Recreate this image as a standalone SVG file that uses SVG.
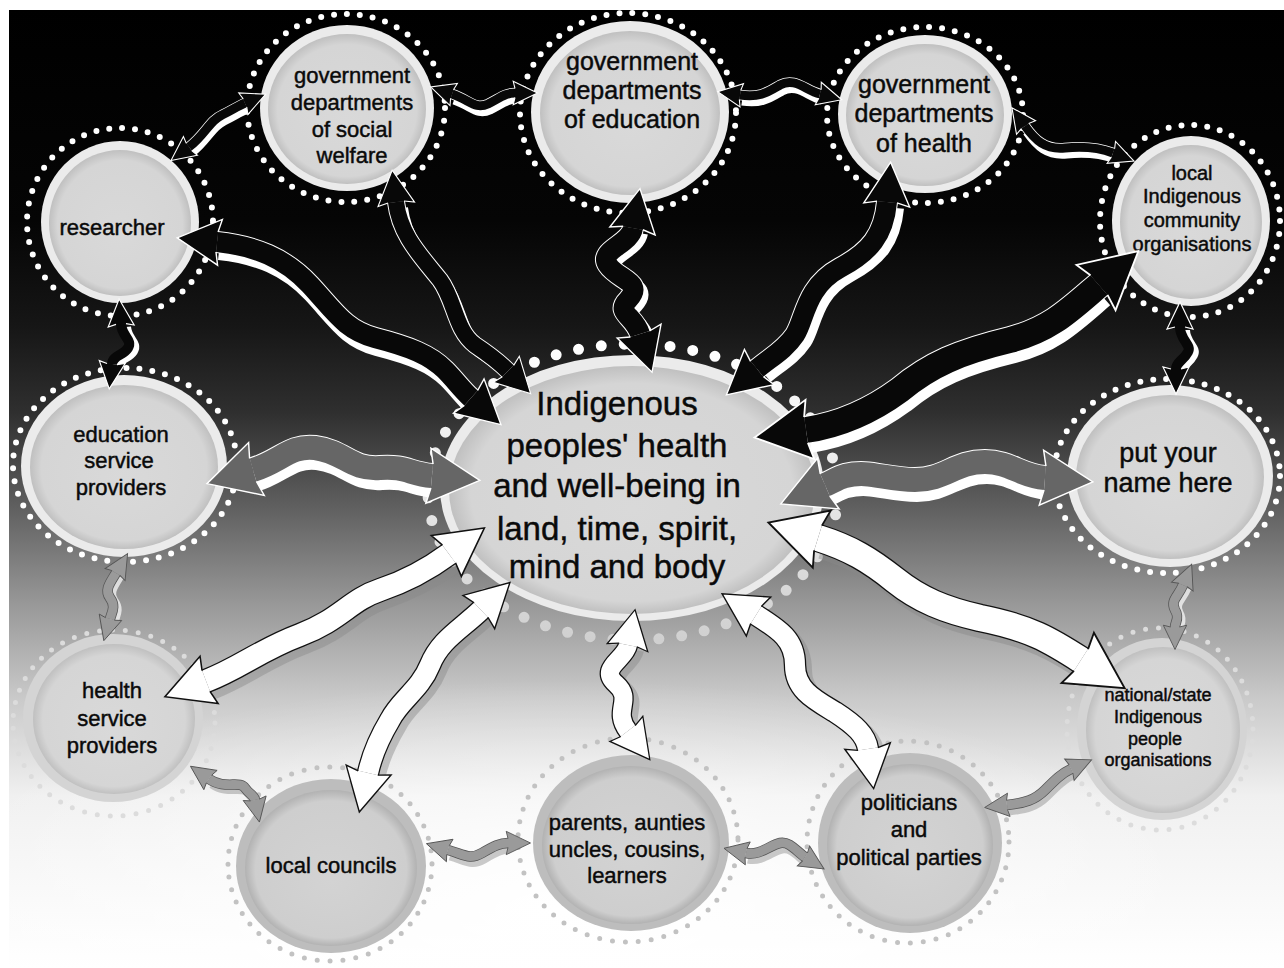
<svg xmlns="http://www.w3.org/2000/svg" xmlns:xlink="http://www.w3.org/1999/xlink" width="1284" height="968" viewBox="0 0 1284 968">
<style>
text{font-family:"Liberation Sans",Arial,sans-serif;fill:#0a0a0a;stroke:#0a0a0a;stroke-width:0.45;text-anchor:middle}
.dots{fill:none;stroke:#fff;stroke-width:6;stroke-linecap:round;stroke-dasharray:0 13}
.mid .dots{stroke:#dcdcdc;stroke-width:5}
.low .dots{stroke:#c2c2c2;stroke-width:5}
.band{fill:#ebebeb}
.mid .band{fill:#d4d4d4}
.low .band{fill:#bdbdbd}
.inner{fill:url(#gIn)}
.low .inner{fill:url(#gInLow)}
.cdots{fill:none;stroke:url(#gDotC);stroke-width:11;stroke-linecap:round;stroke-dasharray:0 23}
.sh{fill:none;stroke:#fff}
.shg{fill:none;stroke:#8a8a8a;opacity:.45}
.olw{fill:none;stroke:#fff}
.olk{fill:none;stroke:#111}
.old{fill:none;stroke:#555}
.fd{fill:none;stroke:#080808;marker-start:url(#mD);marker-end:url(#mD)}
.fsd{fill:none;stroke:#080808;marker-start:url(#mSD);marker-end:url(#mSD)}
.fg{fill:none;stroke:#666;marker-start:url(#mG);marker-end:url(#mG)}
.fw{fill:none;stroke:#fff;marker-start:url(#mW);marker-end:url(#mW)}
.fs{fill:none;stroke:#9a9a9a;marker-start:url(#mS);marker-end:url(#mS)}
</style>
<defs>
<linearGradient id="gBg" x1="0" y1="0" x2="0" y2="1">
<stop offset="0" stop-color="#000"/>
<stop offset=".22" stop-color="#050505"/>
<stop offset=".33" stop-color="#161616"/>
<stop offset=".42" stop-color="#2f2f2f"/>
<stop offset=".52" stop-color="#606060"/>
<stop offset=".62" stop-color="#989898"/>
<stop offset=".72" stop-color="#cacaca"/>
<stop offset=".82" stop-color="#f0f0f0"/>
<stop offset="1" stop-color="#fff"/>
</linearGradient>
<radialGradient id="gGlow" cx="0.5" cy="0.5" r="0.5">
<stop offset="0" stop-color="#fff" stop-opacity="1"/>
<stop offset="1" stop-color="#fff" stop-opacity="0"/>
</radialGradient>
<radialGradient id="gIn" cx="0.5" cy="0.5" r="0.5" fx="0.5" fy="0.58">
<stop offset="0" stop-color="#d9d9d9"/>
<stop offset="0.88" stop-color="#d5d5d5"/>
<stop offset="1" stop-color="#c0c0c0"/>
</radialGradient>
<radialGradient id="gInLow" cx="0.5" cy="0.5" r="0.5" fx="0.5" fy="0.58">
<stop offset="0" stop-color="#d3d3d3"/>
<stop offset="0.88" stop-color="#cecece"/>
<stop offset="1" stop-color="#b2b2b2"/>
</radialGradient>
<linearGradient id="gDotC" gradientUnits="userSpaceOnUse" x1="0" y1="345" x2="0" y2="640">
<stop offset="0" stop-color="#fff"/>
<stop offset="1" stop-color="#d0d0d0"/>
</linearGradient>
<marker id="mD" viewBox="-1 -2 4 4" markerWidth="4" markerHeight="4" refX="0" refY="0" orient="auto-start-reverse" markerUnits="strokeWidth" overflow="visible">
<path d="M0,-0.5 L-0.15,-1.15 L2,0 L-0.15,1.15 L0,0.5 Z" fill="#080808"/>
<path d="M0,-0.5 L-0.15,-1.15 L2,0 L-0.15,1.15 L0,0.5" fill="none" stroke="#fff" stroke-width="0.07"/>
</marker>
<marker id="mSD" viewBox="-1 -2 4 4" markerWidth="4" markerHeight="4" refX="0" refY="0" orient="auto-start-reverse" markerUnits="strokeWidth" overflow="visible">
<path d="M0,-0.5 L-0.2,-1.3 L2.5,0 L-0.2,1.3 L0,0.5 Z" fill="#080808"/>
<path d="M0,-0.5 L-0.2,-1.3 L2.5,0 L-0.2,1.3 L0,0.5" fill="none" stroke="#fff" stroke-width="0.12"/>
</marker>
<marker id="mG" viewBox="-1 -2 4 4" markerWidth="4" markerHeight="4" refX="0" refY="0" orient="auto-start-reverse" markerUnits="strokeWidth" overflow="visible">
<path d="M0,-0.5 L-0.15,-1.15 L2,0 L-0.15,1.15 L0,0.5 Z" fill="#666"/>
<path d="M0,-0.5 L-0.15,-1.15 L2,0 L-0.15,1.15 L0,0.5" fill="none" stroke="#fff" stroke-width="0.06"/>
</marker>
<marker id="mW" viewBox="-1 -2 4 4" markerWidth="4" markerHeight="4" refX="0" refY="0" orient="auto-start-reverse" markerUnits="strokeWidth" overflow="visible">
<path d="M0,-0.5 L-0.15,-1.15 L2,0 L-0.15,1.15 L0,0.5 Z" fill="#fff"/>
<path d="M0,-0.5 L-0.15,-1.15 L2,0 L-0.15,1.15 L0,0.5" fill="none" stroke="#111" stroke-width="0.07"/>
</marker>
<marker id="mS" viewBox="-1 -2 4 4" markerWidth="4" markerHeight="4" refX="0" refY="0" orient="auto-start-reverse" markerUnits="strokeWidth" overflow="visible">
<path d="M0,-0.5 L-0.2,-1.3 L2.5,0 L-0.2,1.3 L0,0.5 Z" fill="#9a9a9a"/>
<path d="M0,-0.5 L-0.2,-1.3 L2.5,0 L-0.2,1.3 L0,0.5" fill="none" stroke="#555" stroke-width="0.1"/>
</marker>
<path id="pA1" d="M217,242 C255,246 285,258 310,285 C335,312 345,330 375,338 C410,347 430,355 445,370 C455,380 462,390 471,398"/>
<path id="pA2" d="M396,202 C400,235 420,255 440,280 C455,300 455,330 475,345 C490,355 500,363 508,371"/>
<path id="pA3" d="M633,228 C630,245 598,250 608,265 C618,280 645,282 628,300 C615,313 634,315 640,334"/>
<path id="pA4" d="M887,202 C884,235 870,252 840,268 C805,287 805,320 795,335 C785,350 770,358 757,369"/>
<path id="pA5" d="M1099,285 C1070,310 1050,330 1010,340 C960,352 930,365 900,390 C870,412 840,425 806,430"/>
<path id="pA6" d="M253,470 C280,462 290,445 315,448 C345,452 350,470 380,468 C405,466 410,474 432,476"/>
<path id="pA7" d="M1045,478 C1020,476 1010,462 985,462 C955,462 945,480 915,480 C885,480 870,470 845,476 C838,478 832,482 825,485"/>
<path id="pA8" d="M206,681 C240,668 260,650 300,635 C340,620 350,600 380,590 C410,580 430,568 449,554"/>
<path id="pA9" d="M481,610 C460,630 440,640 430,665 C420,690 400,700 390,720 C378,740 372,755 368,773"/>
<path id="pA10" d="M628,645 C625,660 598,668 616,684 C634,700 612,710 628,731"/>
<path id="pA11" d="M756,615 C780,630 795,640 795,665 C795,690 815,700 835,712 C855,725 866,735 868,749"/>
<path id="pA12" d="M818,538 C850,548 870,560 895,580 C920,600 945,610 980,618 C1030,628 1050,640 1081,660"/>
<path id="pa" d="M189,147 C205,135 210,120 222,115 C232,110 238,106 245,103"/>
<path id="pb" d="M452,94 C470,100 475,110 488,104 C500,98 505,93 515,93"/>
<path id="pc" d="M740,95 C760,98 768,92 780,85 C795,77 805,90 820,94"/>
<path id="pd" d="M1025,126 C1035,140 1045,150 1065,148 C1085,146 1100,148 1113,153"/>
<path id="pe" d="M1180,327 C1180,340 1192,345 1188,352 C1184,360 1176,362 1176,369"/>
<path id="pf" d="M121,324 C122,337 133,340 128,348 C123,356 113,355 112,364"/>
<path id="pg" d="M116,573 C110,583 104,590 110,598 C116,606 112,612 110,619"/>
<path id="ph" d="M209,779 C225,790 240,780 245,788 C250,795 254,795 255,800"/>
<path id="pi" d="M448,850 C465,855 470,860 482,853 C494,846 500,843 508,843"/>
<path id="pj" d="M746,853 C760,856 770,845 780,843 C790,841 797,852 805,857"/>
<path id="pk" d="M1007,805 C1025,803 1035,800 1045,790 C1055,780 1062,773 1071,769"/>
<path id="pl" d="M1183,585 C1178,597 1170,600 1175,610 C1180,618 1175,622 1175,627"/>
</defs>

<rect x="0" y="0" width="1284" height="968" fill="#fff"/>
<rect x="9" y="10" width="1275" height="958" fill="url(#gBg)"/>
<ellipse cx="560" cy="910" rx="650" ry="230" fill="url(#gGlow)"/>

<g id="n-center">
<ellipse class="cdots" cx="633" cy="492" rx="205" ry="148"/>
<ellipse class="band" cx="632" cy="488" rx="192" ry="133"/>
<ellipse class="inner" cx="632" cy="490" rx="183" ry="124"/>
<text font-size="33"><tspan x="617" y="415">Indigenous</tspan><tspan x="617" y="457">peoples' health</tspan><tspan x="617" y="497">and well-being in</tspan><tspan x="617" y="540">land, time, spirit,</tspan><tspan x="617" y="578">mind and body</tspan></text>
</g>

<g id="n-researcher">
<ellipse class="dots" cx="120" cy="222" rx="93" ry="94"/>
<ellipse class="band" cx="120" cy="222" rx="79" ry="81"/>
<ellipse class="inner" cx="120" cy="223" rx="71" ry="73"/>
<text font-size="22" x="112" y="235">researcher</text>
</g>

<g id="n-welfare">
<ellipse class="dots" cx="346" cy="108" rx="99" ry="94"/>
<ellipse class="band" cx="347" cy="108" rx="87" ry="83"/>
<ellipse class="inner" cx="347" cy="109" rx="79" ry="75"/>
<text font-size="22"><tspan x="352" y="83">government</tspan><tspan x="352" y="110">departments</tspan><tspan x="352" y="137">of social</tspan><tspan x="352" y="163">welfare</tspan></text>
</g>

<g id="n-education">
<ellipse class="dots" cx="628" cy="113" rx="108" ry="100"/>
<ellipse class="band" cx="630" cy="112" rx="99" ry="91"/>
<ellipse class="inner" cx="630" cy="113" rx="90" ry="82"/>
<text font-size="25"><tspan x="632" y="70">government</tspan><tspan x="632" y="99">departments</tspan><tspan x="632" y="128">of education</tspan></text>
</g>

<g id="n-health">
<ellipse class="dots" cx="925" cy="115" rx="98" ry="88"/>
<ellipse class="band" cx="925" cy="114" rx="87" ry="79"/>
<ellipse class="inner" cx="925" cy="115" rx="79" ry="71"/>
<text font-size="25"><tspan x="924" y="93">government</tspan><tspan x="924" y="122">departments</tspan><tspan x="924" y="152">of health</tspan></text>
</g>

<g id="n-localorg">
<ellipse class="dots" cx="1190" cy="221" rx="90" ry="96"/>
<ellipse class="band" cx="1191" cy="221" rx="79" ry="85"/>
<ellipse class="inner" cx="1191" cy="222" rx="71" ry="77"/>
<text font-size="20"><tspan x="1192" y="180">local</tspan><tspan x="1192" y="203">Indigenous</tspan><tspan x="1192" y="227">community</tspan><tspan x="1192" y="251">organisations</tspan></text>
</g>

<g id="n-edusp">
<ellipse class="dots" cx="125" cy="465" rx="112" ry="97"/>
<ellipse class="band" cx="124" cy="466" rx="103" ry="91"/>
<ellipse class="inner" cx="124" cy="467" rx="94" ry="82"/>
<text font-size="22"><tspan x="121" y="442">education</tspan><tspan x="119" y="468">service</tspan><tspan x="121" y="495">providers</tspan></text>
</g>

<g id="n-name">
<ellipse class="dots" cx="1167" cy="476" rx="113" ry="97"/>
<ellipse class="band" cx="1170" cy="476" rx="103" ry="91"/>
<ellipse class="inner" cx="1170" cy="477" rx="94" ry="82"/>
<text font-size="27"><tspan x="1168" y="462">put your</tspan><tspan x="1168" y="492">name here</tspan></text>
</g>

<g id="n-healthsp" class="mid">
<ellipse class="dots" cx="114" cy="723" rx="101" ry="93"/>
<ellipse class="band" cx="113" cy="718" rx="90" ry="84"/>
<ellipse class="inner" cx="114" cy="719" rx="81" ry="75"/>
<text font-size="22"><tspan x="112" y="698">health</tspan><tspan x="112" y="726">service</tspan><tspan x="112" y="753">providers</tspan></text>
</g>

<g id="n-national" class="mid">
<ellipse class="dots" cx="1160" cy="729" rx="93" ry="101"/>
<ellipse class="band" cx="1162" cy="729" rx="85" ry="91"/>
<ellipse class="inner" cx="1163" cy="730" rx="77" ry="83"/>
<text font-size="18"><tspan x="1158" y="701">national/state</tspan><tspan x="1158" y="723">Indigenous</tspan><tspan x="1155" y="745">people</tspan><tspan x="1158" y="766">organisations</tspan></text>
</g>

<g id="n-councils" class="low">
<ellipse class="dots" cx="330" cy="864" rx="102" ry="97"/>
<ellipse class="band" cx="331" cy="866" rx="95" ry="87"/>
<ellipse class="inner" cx="331" cy="868" rx="86" ry="78"/>
<text font-size="22" x="331" y="873">local councils</text>
</g>

<g id="n-parents" class="low">
<ellipse class="dots" cx="628" cy="840" rx="110" ry="102"/>
<ellipse class="band" cx="631" cy="843" rx="98" ry="88"/>
<ellipse class="inner" cx="631" cy="845" rx="89" ry="79"/>
<text font-size="22"><tspan x="627" y="830">parents, aunties</tspan><tspan x="627" y="857">uncles, cousins,</tspan><tspan x="627" y="883">learners</tspan></text>
</g>

<g id="n-politicians" class="low">
<ellipse class="dots" cx="908" cy="842" rx="101" ry="101"/>
<ellipse class="band" cx="910" cy="843" rx="92" ry="90"/>
<ellipse class="inner" cx="910" cy="845" rx="83" ry="81"/>
<text font-size="22"><tspan x="909" y="810">politicians</tspan><tspan x="909" y="837">and</tspan><tspan x="909" y="865">political parties</tspan></text>
</g>

<g id="connectors">
<g><use href="#pa" class="sh" stroke-width="9" transform="translate(2,6)"/><use href="#pa" class="olw" stroke-width="10.5"/><use href="#pa" class="fsd" stroke-width="9"/></g>
<g><use href="#pb" class="sh" stroke-width="9" transform="translate(2,6)"/><use href="#pb" class="olw" stroke-width="10.5"/><use href="#pb" class="fsd" stroke-width="9"/></g>
<g><use href="#pc" class="sh" stroke-width="9" transform="translate(2,6)"/><use href="#pc" class="olw" stroke-width="10.5"/><use href="#pc" class="fsd" stroke-width="9"/></g>
<g><use href="#pd" class="sh" stroke-width="9" transform="translate(2,6)"/><use href="#pd" class="olw" stroke-width="10.5"/><use href="#pd" class="fsd" stroke-width="9"/></g>
<g><use href="#pe" class="sh" stroke-width="10" transform="translate(5,3)"/><use href="#pe" class="fsd" stroke-width="10"/></g>
<g><use href="#pf" class="sh" stroke-width="10" transform="translate(5,3)"/><use href="#pf" class="fsd" stroke-width="10"/></g>
<g><use href="#pg" class="sh" stroke-width="9" transform="translate(4,3)" opacity=".7"/><use href="#pg" class="old" stroke-width="10.5"/><use href="#pg" class="fs" stroke-width="9"/></g>
<g><use href="#ph" class="shg" stroke-width="9" transform="translate(3,5)"/><use href="#ph" class="old" stroke-width="10.5"/><use href="#ph" class="fs" stroke-width="9"/></g>
<g><use href="#pi" class="shg" stroke-width="9" transform="translate(2,6)"/><use href="#pi" class="old" stroke-width="10.5"/><use href="#pi" class="fs" stroke-width="9"/></g>
<g><use href="#pj" class="shg" stroke-width="9" transform="translate(2,6)"/><use href="#pj" class="old" stroke-width="10.5"/><use href="#pj" class="fs" stroke-width="9"/></g>
<g><use href="#pk" class="shg" stroke-width="9" transform="translate(2,6)"/><use href="#pk" class="old" stroke-width="10.5"/><use href="#pk" class="fs" stroke-width="9"/></g>
<g><use href="#pl" class="sh" stroke-width="9" transform="translate(4,3)" opacity=".7"/><use href="#pl" class="old" stroke-width="10.5"/><use href="#pl" class="fs" stroke-width="9"/></g>

<g><use href="#pA1" class="sh" stroke-width="18" transform="translate(2,9)"/><use href="#pA1" class="olw" stroke-width="22"/><use href="#pA1" class="fd" stroke-width="20"/></g>
<g><use href="#pA2" class="sh" stroke-width="14" transform="translate(5,6)"/><use href="#pA2" class="olw" stroke-width="18"/><use href="#pA2" class="fd" stroke-width="16"/></g>
<g><use href="#pA3" class="sh" stroke-width="18" transform="translate(6,5)"/><use href="#pA3" class="olw" stroke-width="22"/><use href="#pA3" class="fd" stroke-width="20"/></g>
<g><use href="#pA4" class="sh" stroke-width="18" transform="translate(8,6)"/><use href="#pA4" class="olw" stroke-width="22"/><use href="#pA4" class="fd" stroke-width="20"/></g>
<g><use href="#pA5" class="sh" stroke-width="22" transform="translate(4,12)"/><use href="#pA5" class="olw" stroke-width="28"/><use href="#pA5" class="fd" stroke-width="26"/></g>
<g><use href="#pA6" class="sh" stroke-width="20" transform="translate(2,12)"/><use href="#pA6" class="olw" stroke-width="26"/><use href="#pA6" class="fg" stroke-width="24"/></g>
<g><use href="#pA7" class="sh" stroke-width="20" transform="translate(2,12)"/><use href="#pA7" class="olw" stroke-width="26"/><use href="#pA7" class="fg" stroke-width="24"/></g>
<g><use href="#pA8" class="shg" stroke-width="22" transform="translate(5,8)"/><use href="#pA8" class="olk" stroke-width="24.5"/><use href="#pA8" class="fw" stroke-width="22"/></g>
<g><use href="#pA9" class="shg" stroke-width="20" transform="translate(7,5)"/><use href="#pA9" class="olk" stroke-width="22.5"/><use href="#pA9" class="fw" stroke-width="20"/></g>
<g><use href="#pA10" class="shg" stroke-width="18" transform="translate(7,5)"/><use href="#pA10" class="olk" stroke-width="20.5"/><use href="#pA10" class="fw" stroke-width="18"/></g>
<g><use href="#pA11" class="shg" stroke-width="20" transform="translate(7,5)"/><use href="#pA11" class="olk" stroke-width="22.5"/><use href="#pA11" class="fw" stroke-width="20"/></g>
<g><use href="#pA12" class="shg" stroke-width="24" transform="translate(4,9)"/><use href="#pA12" class="olk" stroke-width="28.5"/><use href="#pA12" class="fw" stroke-width="26"/></g>
</g>
</svg>
